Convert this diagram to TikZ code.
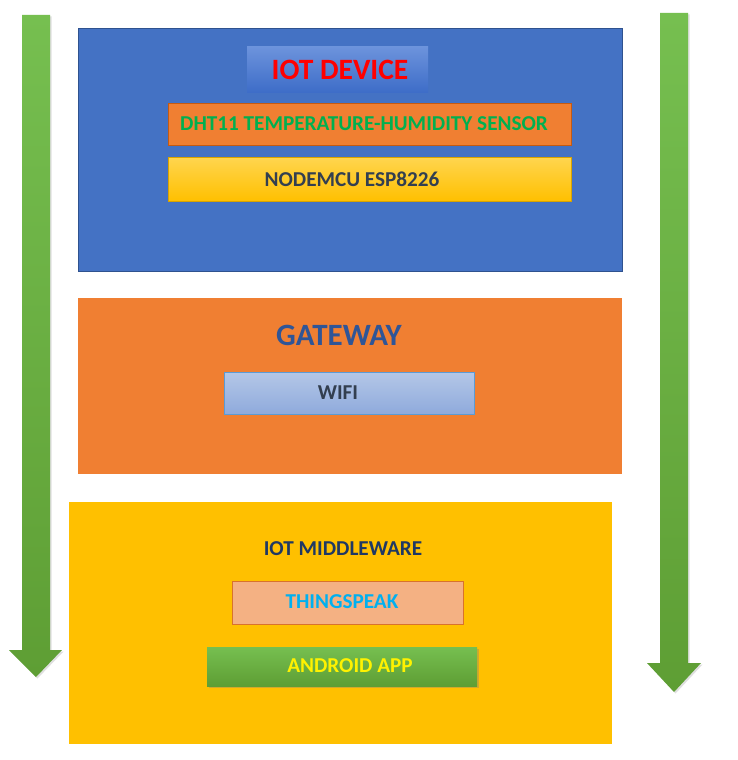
\documentclass[tikz,border=0pt]{standalone}
\usepackage{fontspec}
\setmainfont{Carlito}
\usetikzlibrary{shadows}
\definecolor{cblue}{HTML}{4472C4}
\definecolor{cblueD}{HTML}{2F528F}
\definecolor{corange}{HTML}{F07F32}
\definecolor{corangeD}{HTML}{C55A11}
\definecolor{cgold}{HTML}{FFC000}
\definecolor{cgoldL}{HTML}{FFD54F}
\definecolor{cgreenT}{HTML}{00B050}
\definecolor{cslate}{HTML}{333F50}
\definecolor{cgate}{HTML}{2F5597}
\definecolor{cnavy}{HTML}{1F3864}
\definecolor{csalmon}{HTML}{F4B183}
\definecolor{ccyan}{HTML}{00B0F0}
\definecolor{cwifiT}{HTML}{B4C7E7}
\definecolor{cwifiB}{HTML}{8FAADC}
\definecolor{cwifiD}{HTML}{5B9BD5}
\definecolor{cgrn}{HTML}{70AD47}
\definecolor{cgrnL}{HTML}{76BF50}
\definecolor{cgrnD}{HTML}{5E9E34}
\definecolor{ctitleT}{HTML}{6C93DC}
\definecolor{ctitleB}{HTML}{3E6DC8}
\tikzset{
  layer/.style={anchor=north west, inner sep=0pt, outer sep=0pt},
  inbox/.style={anchor=north west, inner sep=0pt, outer sep=0pt, line width=0.8pt},
  lbl/.style={font=\fontsize{21.2}{24}\selectfont\bfseries, inner sep=0pt},
  ttl/.style={font=\fontsize{29.5}{32}\selectfont\bfseries, inner sep=0pt},
  bigarrow/.style={top color=cgrnL, bottom color=cgrnD, draw=none, drop shadow={opacity=0.25, shadow xshift=1.5pt, shadow yshift=-1.5pt}}
}
\begin{document}
\begin{tikzpicture}[x=1pt,y=-1pt]
\useasboundingbox (0,0) rectangle (738,760);
\fill[white] (0,0) rectangle (738,760);
% arrows
\path[bigarrow] (22,15) -- (50,15) -- (50,650) -- (62,650) -- (36,677) -- (9,650) -- (22,650) -- cycle;
\path[bigarrow] (660,13) -- (688,13) -- (688,663) -- (701,663) -- (674,692) -- (647,663) -- (660,663) -- cycle;
% IOT device layer
\node[layer, fill=cblue, draw=cblueD, line width=0.6pt, minimum width=544pt, minimum height=243pt] (dev) at (78,28) {};
\node[layer, top color=ctitleT, bottom color=ctitleB, minimum width=181pt, minimum height=45pt] (devtbox) at (247,47) {};
\node[ttl, text=red] (devt) at (340,70) {IOT DEVICE};
\node[inbox, fill=corange, draw=corangeD, minimum width=403pt, minimum height=42pt] (dht) at (168,103) {};
\node[lbl, text=cgreenT] (dhtt) at (364,124) {DHT11 TEMPERATURE-HUMIDITY SENSOR};
\node[inbox, top color=cgoldL, bottom color=cgold, draw=cgold!85!black, minimum width=403pt, minimum height=44pt] (mcu) at (168,157) {};
\node[lbl, text=cslate] (mcut) at (352,179) {NODEMCU ESP8226};
% gateway layer
\node[layer, fill=corange, minimum width=544pt, minimum height=176pt] (gw) at (78,298) {};
\node[ttl, text=cgate, font=\fontsize{31}{33}\selectfont\bfseries] (gwt) at (339,335) {GATEWAY};
\node[inbox, top color=cwifiT, bottom color=cwifiB, draw=cwifiD, minimum width=250pt, minimum height=42pt] (wifi) at (224,372) {};
\node[lbl, text=cslate] (wifit) at (338,393) {WIFI};
% middleware layer
\node[layer, fill=cgold, minimum width=543pt, minimum height=242pt] (mw) at (69,502) {};
\node[lbl, text=cnavy] (mwt) at (343,549) {IOT MIDDLEWARE};
\node[inbox, fill=csalmon, draw=corange!90!black, minimum width=231pt, minimum height=43pt] (ts) at (232,581) {};
\node[lbl, text=ccyan] (tst) at (342,602) {THINGSPEAK};
\node[inbox, top color=cgrnL, bottom color=cgrnD, draw=none, minimum width=270pt, minimum height=39pt, drop shadow={opacity=0.35, shadow xshift=1.5pt, shadow yshift=-2pt}] (app) at (207,647) {};
\node[lbl, text=yellow] (appt) at (350,666) {ANDROID APP};
\end{tikzpicture}
\end{document}
